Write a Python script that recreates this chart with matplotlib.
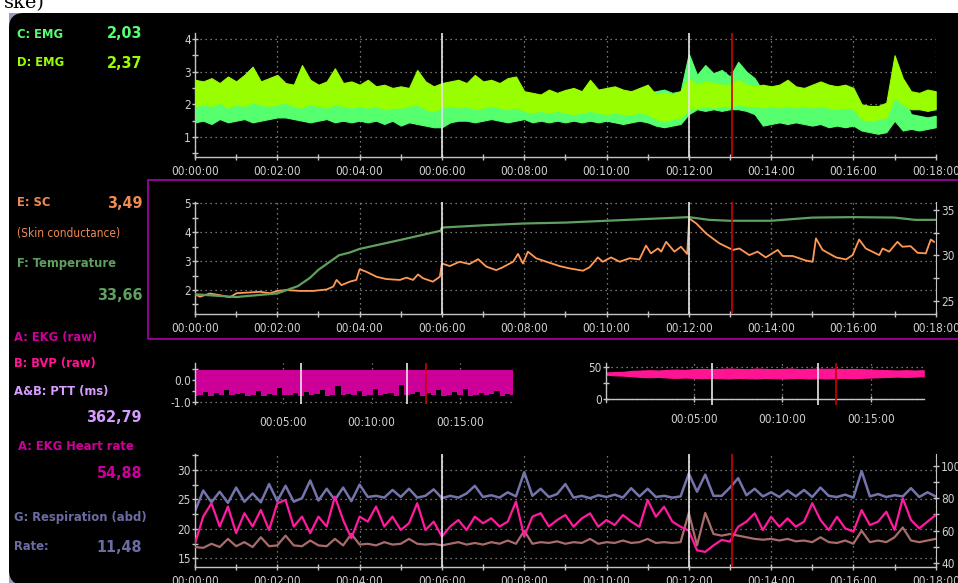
import numpy as np
import matplotlib.pyplot as plt
from matplotlib.patches import Rectangle, FancyBboxPatch
from matplotlib.ticker import MultipleLocator, FuncFormatter, FixedLocator

W, H = 958, 583
plt.rcParams['font.family'] = ['DejaVu Sans']
plt.rcParams['font.stretch'] = 'condensed'

# ---- EMG (C / D), sampled every 12 s ----
emg_t = np.arange(91) * 0.2
emg_d_hi = [2.75, 2.70, 2.80, 2.65, 2.85, 2.70, 2.90, 3.15, 2.70, 2.80,
            2.90, 2.65, 2.60, 3.20, 2.75, 2.60, 2.70, 3.10, 2.65, 2.70,
            2.60, 2.75, 2.55, 2.60, 2.50, 2.55, 2.50, 3.05, 2.70, 2.55,
            2.65, 2.70, 2.75, 2.65, 2.90, 2.70, 2.75, 2.65, 2.80, 2.85,
            2.40, 2.35, 2.30, 2.45, 2.35, 2.44, 2.50, 2.40, 2.75, 2.45,
            2.50, 2.55, 2.45, 2.40, 2.50, 2.60, 2.30, 2.35, 2.30, 2.40,
            2.80, 2.60, 2.70, 2.65, 2.60, 2.60, 2.75, 2.60, 2.55, 2.60,
            2.55, 2.60, 2.75, 2.55, 2.50, 2.60, 2.70, 2.60, 2.55, 2.60,
            2.50, 2.00, 1.95, 1.95, 2.05, 3.50, 2.80, 2.40, 2.35, 2.45,
            2.40]
emg_d_lo = [1.95, 2.00, 1.95, 2.05, 1.90, 2.00, 1.95, 2.05, 2.00, 1.95,
            2.00, 2.05, 1.95, 1.90, 2.00, 1.95, 1.90, 2.00, 1.95, 1.90,
            1.95, 1.90, 1.95, 1.85, 1.90, 1.90, 1.95, 2.00, 1.85, 1.80,
            1.90, 1.95, 1.90, 1.95, 1.85, 1.90, 1.95, 1.90, 1.85, 1.90,
            1.80, 1.75, 1.80, 1.75, 1.80, 1.75, 1.70, 1.75, 1.80, 1.75,
            1.70, 1.75, 1.70, 1.70, 1.75, 1.70, 1.55, 1.50, 1.55, 1.60,
            1.85, 1.90, 1.95, 1.90, 1.95, 1.95, 2.00, 1.95, 1.95, 1.90,
            1.95, 1.90, 1.95, 1.90, 1.95, 1.90, 1.95, 1.90, 1.85, 1.90,
            1.85, 1.55, 1.50, 1.55, 1.60, 2.20, 2.00, 1.85, 1.85, 1.80,
            1.85]
emg_c_hi = [2.25, 2.20, 2.30, 2.20, 2.25, 2.30, 2.20, 2.25, 2.20, 2.30,
            2.25, 2.40, 2.20, 2.25, 2.30, 2.20, 2.25, 2.20, 2.30, 2.25,
            2.20, 2.50, 2.20, 2.25, 2.20, 2.25, 2.20, 2.30, 2.25, 2.20,
            2.25, 2.65, 2.20, 2.25, 2.20, 2.30, 2.25, 2.20, 2.25, 2.30,
            2.20, 2.25, 2.20, 2.30, 2.25, 2.20, 2.25, 2.30, 2.20, 2.25,
            2.20, 2.25, 2.30, 2.20, 2.25, 2.35, 2.40, 2.45, 2.35, 2.40,
            3.55, 2.90, 3.20, 2.95, 3.05, 2.85, 3.30, 3.00, 2.80, 2.40,
            2.30, 2.25, 2.30, 2.25, 2.30, 2.25, 2.30, 2.25, 2.20, 2.25,
            2.20, 1.55, 1.60, 1.55, 1.60, 3.10, 2.30, 1.70, 1.65, 1.60,
            1.65]
emg_c_lo = [1.45, 1.50, 1.40, 1.55, 1.45, 1.50, 1.55, 1.45, 1.50, 1.55,
            1.60, 1.60, 1.55, 1.50, 1.45, 1.50, 1.55, 1.45, 1.50, 1.45,
            1.50, 1.45, 1.50, 1.40, 1.50, 1.35, 1.45, 1.40, 1.35, 1.30,
            1.30, 1.45, 1.50, 1.50, 1.45, 1.50, 1.55, 1.50, 1.45, 1.50,
            1.55, 1.45, 1.50, 1.45, 1.50, 1.45, 1.50, 1.45, 1.50, 1.45,
            1.50, 1.45, 1.40, 1.45, 1.50, 1.45, 1.35, 1.30, 1.35, 1.40,
            1.70, 1.85, 1.80, 1.85, 1.80, 1.85, 1.85, 1.80, 1.70, 1.35,
            1.40, 1.45, 1.40, 1.45, 1.40, 1.35, 1.40, 1.30, 1.35, 1.30,
            1.35, 1.20, 1.15, 1.10, 1.15, 1.50, 1.20, 1.25, 1.20, 1.25,
            1.30]

# ---- skin conductance and temperature ----
sc_t = [0.00, 0.12, 0.36, 0.61, 0.85, 1.01, 1.25, 1.58, 1.82, 2.01,
        2.22, 2.55, 2.87, 3.20, 3.36, 3.44, 3.56, 3.76, 3.92, 4.00,
        4.17, 4.41, 4.65, 4.98, 5.14, 5.30, 5.42, 5.54, 5.78, 5.95,
        6.00, 6.19, 6.43, 6.67, 6.88, 7.08, 7.32, 7.48, 7.73, 7.85,
        7.97, 8.09, 8.29, 8.54, 8.86, 9.10, 9.43, 9.59, 9.79, 9.91,
        10.11, 10.32, 10.56, 10.80, 10.96, 11.08, 11.25, 11.33, 11.45, 11.65,
        11.81, 11.96, 12.01, 12.18, 12.42, 12.74, 13.07, 13.23, 13.47, 13.67,
        13.87, 14.16, 14.28, 14.52, 14.85, 15.01, 15.09, 15.25, 15.58, 15.82,
        15.98, 16.14, 16.30, 16.63, 16.71, 16.87, 17.07, 17.19, 17.39, 17.56,
        17.76, 17.88, 17.96]
sc = [1.85, 1.77, 1.88, 1.82, 1.75, 1.89, 1.91, 1.94, 1.89, 1.97,
      2.00, 1.97, 1.97, 2.02, 2.12, 2.35, 2.17, 2.29, 2.35, 2.72,
      2.63, 2.46, 2.38, 2.35, 2.43, 2.35, 2.54, 2.41, 2.29, 2.46,
      2.92, 2.83, 2.98, 2.90, 3.07, 2.81, 2.69, 2.79, 2.98, 3.25,
      2.92, 3.33, 3.10, 2.98, 2.83, 2.75, 2.67, 2.79, 3.13, 2.98,
      3.13, 2.98, 3.10, 3.06, 3.54, 3.27, 3.44, 3.33, 3.67, 3.33,
      3.50, 3.25, 4.48, 4.31, 3.96, 3.62, 3.39, 3.44, 3.21, 3.33,
      3.13, 3.39, 3.18, 3.18, 3.02, 2.98, 3.79, 3.39, 3.13, 3.06,
      3.21, 3.75, 3.44, 3.21, 3.44, 3.33, 3.67, 3.50, 3.52, 3.29,
      3.27, 3.75, 3.67]
temp_t = [0, 1, 2, 2.5, 2.79, 3.0, 3.28, 3.5, 3.76, 4, 5, 5.97, 6.0, 7, 8, 9,
          10, 11, 12, 12.5, 13, 14, 15, 16, 17, 17.5, 18]
temp = [25.7, 25.4, 25.8, 26.6, 27.5, 28.4, 29.3, 30.0, 30.3, 30.7, 31.7,
        32.7, 33.05, 33.3, 33.5, 33.6, 33.8, 34.0, 34.2, 33.9, 33.8, 33.8,
        34.15, 34.2, 34.15, 33.9, 33.9]

# ---- EKG raw and PTT ----
ekg_t = np.arange(61) * 0.3
ekg_lo = [-0.72, -0.68, -0.55, -0.74, -0.62, -0.70, -0.45, -0.71, -0.66, -0.58,
          -0.73, -0.69, -0.50, -0.72, -0.64, -0.70, -0.38, -0.71, -0.67, -0.60,
          -0.74, -0.55, -0.70, -0.66, -0.48, -0.72, -0.69, -0.30, -0.71, -0.63,
          -0.70, -0.52, -0.73, -0.68, -0.42, -0.71, -0.65, -0.58, -0.74, -0.25,
          -0.70, -0.66, -0.57, -0.72, -0.61, -0.71, -0.47, -0.73, -0.68, -0.56,
          -0.70, -0.40, -0.72, -0.67, -0.59, -0.71, -0.64, -0.50, -0.72, -0.66,
          -0.70]
ekg_hi = [0.46, 0.45, 0.47, 0.45, 0.46, 0.44, 0.46, 0.45, 0.47, 0.45,
          0.46, 0.45, 0.44, 0.46, 0.45, 0.47, 0.45, 0.46, 0.45, 0.44,
          0.46, 0.45, 0.47, 0.45, 0.46, 0.45, 0.44, 0.46, 0.45, 0.47,
          0.45, 0.46, 0.45, 0.44, 0.46, 0.45, 0.47, 0.45, 0.46, 0.45,
          0.44, 0.46, 0.45, 0.47, 0.45, 0.46, 0.45, 0.44, 0.46, 0.45,
          0.47, 0.45, 0.46, 0.45, 0.44, 0.46, 0.45, 0.47, 0.45, 0.46,
          0.45]
ptt_t = np.arange(37) * 0.5
ptt_hi = [42, 42.5, 43, 44.5, 45, 45.5, 45, 46, 46.5, 46, 47, 47.5, 47, 47.5,
          48, 47.5, 47, 48, 47.5, 47, 47.5, 48, 47, 47.5, 48, 47.5, 48, 47,
          47.5, 47, 46.5, 46, 45.5, 45, 45.5, 45, 45.5]
ptt_lo = [38.5, 37.5, 37, 36, 35, 34.5, 35, 34, 33.5, 34, 33.5, 33, 33.5, 33,
          32.5, 33.5, 33, 32.5, 33.5, 33, 32.5, 33, 33.5, 32.5, 33, 32.5, 33,
          33.5, 33, 33.5, 34, 34.5, 35, 35.5, 35, 35.5, 36]

# ---- respiration and heart rates, every 12 s ----
rate_t = np.arange(91) * 0.2
resp = [23.0, 26.5, 24.5, 26.3, 24.4, 27.0, 24.6, 26.0, 24.5, 27.6,
        24.7, 27.3, 24.6, 25.2, 28.2, 24.8, 26.8, 24.9, 27.0, 24.7,
        27.5, 25.4, 25.6, 25.3, 26.6, 25.4, 26.8, 25.3, 25.6, 26.7,
        25.2, 25.6, 25.3, 26.0, 27.3, 25.4, 25.7, 25.3, 26.2, 25.5,
        29.6, 25.6, 26.8, 25.4, 25.9, 27.6, 25.3, 25.6, 25.2, 25.7,
        25.4, 25.8, 25.3, 26.9, 25.5, 26.8, 25.4, 25.6, 25.3, 25.5,
        29.4, 26.3, 29.2, 25.6, 25.6, 27.0, 28.6, 25.7, 26.8, 25.5,
        26.2, 25.4, 26.5, 25.5, 26.6, 25.4, 27.0, 25.6, 25.4, 25.8,
        25.3, 29.8, 25.5, 25.9, 25.4, 25.7, 25.5, 26.9, 25.4, 26.2,
        25.5]
hr = [52.3, 68.7, 76.9, 62.6, 74.9, 58.5, 70.8, 62.6, 72.8, 60.5,
      76.9, 78.9, 62.6, 68.7, 58.5, 68.7, 62.6, 81.0, 66.6, 55.4,
      68.7, 65.6, 74.9, 62.6, 68.7, 60.5, 64.6, 76.9, 60.5, 65.6,
      56.4, 62.6, 66.6, 60.5, 68.7, 64.6, 67.7, 62.6, 65.6, 77.9,
      56.4, 68.7, 70.8, 62.6, 66.6, 69.7, 62.5, 67.6, 70.7, 62.5,
      66.6, 63.5, 69.7, 65.6, 62.5, 78.9, 68.6, 74.8, 65.6, 62.5,
      60.0, 48.0, 47.0, 51.0, 54.4, 53.3, 62.5, 65.6, 70.7, 60.5,
      68.6, 62.5, 67.6, 62.5, 65.6, 76.9, 66.6, 60.5, 68.6, 61.5,
      59.5, 72.7, 63.5, 65.6, 71.7, 60.5, 79.9, 66.6, 61.5, 65.6,
      69.7]
hr_bvp = [50.0, 49.5, 52.0, 50.0, 55.0, 50.5, 53.0, 50.0, 56.0, 50.5,
          51.0, 57.0, 51.0, 50.5, 54.0, 51.0, 50.5, 55.0, 51.0, 58.0,
          51.5, 52.0, 51.0, 53.0, 51.5, 52.0, 55.0, 52.0, 51.5, 52.0,
          51.0, 52.0, 53.0, 51.5, 52.5, 51.5, 53.0, 52.0, 54.0, 52.0,
          60.0, 52.0, 53.0, 52.5, 53.5, 52.0, 53.0, 52.5, 55.0, 52.0,
          53.0, 52.5, 54.0, 52.5, 53.0, 55.0, 52.5, 53.0, 52.5, 53.0,
          71.0, 51.0, 71.0, 58.0, 57.0, 58.0, 57.0, 56.0, 55.0, 54.5,
          55.0, 54.0, 55.0, 53.5, 54.0, 53.0, 56.0, 53.0, 52.5, 54.0,
          52.0, 60.0, 53.0, 54.0, 53.0, 56.0, 62.0, 54.0, 53.0, 54.0,
          55.0]

events = [6.0, 12.0]
cursor = 13.05

AXIS = '#c4c4c4'
LABEL = '#cfcfcf'
GRID = '#9a9a9a'

fig = plt.figure(figsize=(W / 100, H / 100), dpi=100, facecolor='white')

# lavender corners showing behind the rounded black panel
for cy in (13, 568):
    fig.patches.append(Rectangle((9 / W, 1 - (cy + 15) / H), 15 / W, 15 / H,
                                 transform=fig.transFigure, zorder=-11,
                                 facecolor='#9a9ab8', edgecolor='none'))
fig.patches.append(FancyBboxPatch((0.09, -0.02), 10.0, 5.72,
                                  boxstyle='round,pad=0,rounding_size=0.15',
                                  transform=fig.dpi_scale_trans, zorder=-10,
                                  facecolor='black', edgecolor='none'))
fig.text(4 / W, 1 - 8 / H, 'ske)', family='DejaVu Serif', fontsize=14,
         stretch='normal', color='black', va='baseline')


def px_axes(x0, y0, x1, y1):
    return fig.add_axes([x0 / W, 1 - y1 / H, (x1 - x0) / W, (y1 - y0) / H])


def time_fmt(v, pos):
    return '00:%02d:00' % int(round(v))


def style(ax, grid=True):
    ax.set_facecolor('none')
    for side in ('top', 'right'):
        ax.spines[side].set_visible(False)
    for side in ('left', 'bottom', 'right'):
        ax.spines[side].set_color(AXIS)
        ax.spines[side].set_linewidth(1.0)
    ax.tick_params(which='both', direction='inout', length=4, width=1,
                   color=AXIS, labelcolor=LABEL, labelsize=8.5)
    ax.tick_params(axis='y', pad=1)
    ax.tick_params(axis='x', pad=4)
    if grid:
        ax.grid(True, which='major', color=GRID, linestyle=(0, (1, 3)), linewidth=0.9)
    ax.set_axisbelow(True)


def time_axis(ax):
    ax.set_xlim(0, 18)
    ax.xaxis.set_major_locator(MultipleLocator(2))
    ax.xaxis.set_minor_locator(MultipleLocator(1))
    ax.xaxis.set_major_formatter(FuncFormatter(time_fmt))


def right_axis(ax):
    tw = ax.twinx()
    tw.set_facecolor('none')
    for side in ('top', 'left', 'bottom'):
        tw.spines[side].set_visible(False)
    tw.spines['right'].set_color(AXIS)
    tw.tick_params(which='both', direction='inout', length=4, width=1,
                   color=AXIS, labelcolor=LABEL, labelsize=8.5, pad=2)
    return tw


def marks(ax):
    for x in events:
        ax.axvline(x, color='#e8e8e8', lw=1.2, zorder=6)
    ax.axvline(cursor, color='#cc0000', lw=1.2, zorder=6)


# ---- panel 1: EMG ----
ax1 = px_axes(195, 33, 935.7, 157)
style(ax1)
time_axis(ax1)
ax1.set_ylim(0.39, 4.18)
ax1.yaxis.set_major_locator(FixedLocator([1, 2, 3, 4]))
ax1.yaxis.set_minor_locator(FixedLocator([0.5, 1.5, 2.5, 3.5]))
ax1.fill_between(emg_t, emg_c_lo, emg_c_hi, color='#55ff6e', lw=0.8, zorder=2)
ax1.fill_between(emg_t, emg_d_lo, emg_d_hi, color='#99ff00', lw=0.8, zorder=3)
marks(ax1)

# ---- panel 2: SC and temperature ----
fig.patches.append(Rectangle((148 / W, 1 - 339 / H), 820 / W, 159 / H,
                             transform=fig.transFigure, fill=False,
                             edgecolor='#a000a0', lw=1.3))
ax2 = px_axes(195, 201.7, 935.7, 314)
style(ax2)
time_axis(ax2)
ax2.set_ylim(1.17, 5.06)
ax2.yaxis.set_major_locator(FixedLocator([2, 3, 4, 5]))
ax2.yaxis.set_minor_locator(FixedLocator([1.5, 2.5, 3.5, 4.5]))
ax2t = right_axis(ax2)
ax2t.set_ylim(23.53, 35.9)
ax2t.yaxis.set_major_locator(FixedLocator([25, 30, 35]))
ax2t.yaxis.set_minor_locator(FixedLocator([27.5, 32.5]))
ax2t.plot(temp_t, temp, color='#5f9f5f', lw=1.6, zorder=2)
ax2.plot(sc_t, sc, color='#ff9955', lw=1.3, zorder=3)
marks(ax2t)

# ---- panel 3 left: raw EKG ----
ax3 = px_axes(195, 363, 513, 404)
style(ax3)
ax3.spines['bottom'].set_visible(False)
ax3.set_xlim(0, 18)
ax3.set_ylim(-1.106, 0.78)
ax3.set_xticks([5, 10, 15])
ax3.xaxis.set_major_formatter(FuncFormatter(time_fmt))
ax3.tick_params(axis='x', length=0, pad=9)
ax3.yaxis.set_major_locator(FixedLocator([-1.0, 0.0]))
ax3.yaxis.set_minor_locator(FixedLocator([-0.5, 0.5]))
ax3.yaxis.set_major_formatter(FuncFormatter(lambda v, p: '%.1f' % v))
ax3.fill_between(ekg_t, ekg_lo, ekg_hi, step='mid', color='#cc0099', lw=0, zorder=2)
marks(ax3)

# ---- panel 3 right: PTT ----
ax4 = px_axes(605.7, 362.7, 923.7, 405)
style(ax4)
ax4.set_xlim(0, 18)
ax4.set_ylim(-8.9, 57.2)
ax4.spines['bottom'].set_position(('data', 0))
ax4.spines['left'].set_bounds(-3.7, 56)
ax4.set_xticks([5, 10, 15])
ax4.xaxis.set_major_formatter(FuncFormatter(time_fmt))
ax4.tick_params(axis='x', pad=8)
ax4.yaxis.set_major_locator(FixedLocator([0, 50]))
ax4.yaxis.set_minor_locator(FixedLocator([25]))
ax4.fill_between(ptt_t, ptt_lo, ptt_hi, color='#ff1493', lw=0.8, zorder=2)
ax4.vlines(0, 0, ptt_lo[0], color='#ff1493', lw=1.2, zorder=2)
marks(ax4)

# ---- panel 4: respiration and heart rate ----
ax5 = px_axes(195, 454, 935.7, 566.7)
style(ax5)
time_axis(ax5)
ax5.set_ylim(13.57, 32.7)
ax5.yaxis.set_major_locator(FixedLocator([15, 20, 25, 30]))
ax5.yaxis.set_minor_locator(FixedLocator([17.5, 22.5, 27.5, 32.5]))
ax5.plot(rate_t, resp, color='#7474ac', lw=1.8, zorder=2)
ax5t = right_axis(ax5)
ax5t.set_ylim(37.9, 107.2)
ax5t.yaxis.set_major_locator(FixedLocator([40, 60, 80, 100]))
ax5t.yaxis.set_minor_locator(FixedLocator([50, 70, 90]))
ax5t.plot(rate_t, hr_bvp, color='#a86c6c', lw=1.6, zorder=2)
ax5t.plot(rate_t, hr, color='#ff1aa0', lw=1.6, zorder=3)
marks(ax5t)

# ---- readouts on the left ----
def readout(x, y, s, color, size=9.3, ha='left', weight='bold'):
    fig.text(x / W, 1 - y / H, s, color=color, fontsize=size, ha=ha,
             va='center', fontweight=weight)

readout(17, 34, 'C: EMG', '#55ff6e')
readout(142, 34, '2,03', '#55ff6e', size=11.5, ha='right')
readout(17, 63, 'D: EMG', '#99ff00')
readout(142, 63, '2,37', '#99ff00', size=11.5, ha='right')
readout(17, 203, 'E: SC', '#f08a50')
readout(143, 203, '3,49', '#f08a50', size=11.5, ha='right')
readout(17, 233, '(Skin conductance)', '#f08a50', size=8.5, weight='normal')
readout(17, 264, 'F: Temperature', '#5f9f5f')
readout(143, 295, '33,66', '#5f9f5f', size=11.5, ha='right')
readout(14, 337, 'A: EKG (raw)', '#cc0099')
readout(14, 364, 'B: BVP (raw)', '#ff1493')
readout(14, 391, 'A&B: PTT (ms)', '#d79cff')
readout(142, 417, '362,79', '#d79cff', size=11.5, ha='right')
readout(18, 447, 'A: EKG Heart rate', '#cc0099')
readout(142, 474, '54,88', '#cc0099', size=11.5, ha='right')
readout(14, 517, 'G: Respiration (abd)', '#6c6ca4')
readout(14, 547, 'Rate:', '#6c6ca4')
readout(142, 547, '11,48', '#6c6ca4', size=11.5, ha='right')

fig.savefig('out.png', dpi=100, facecolor=fig.get_facecolor())
